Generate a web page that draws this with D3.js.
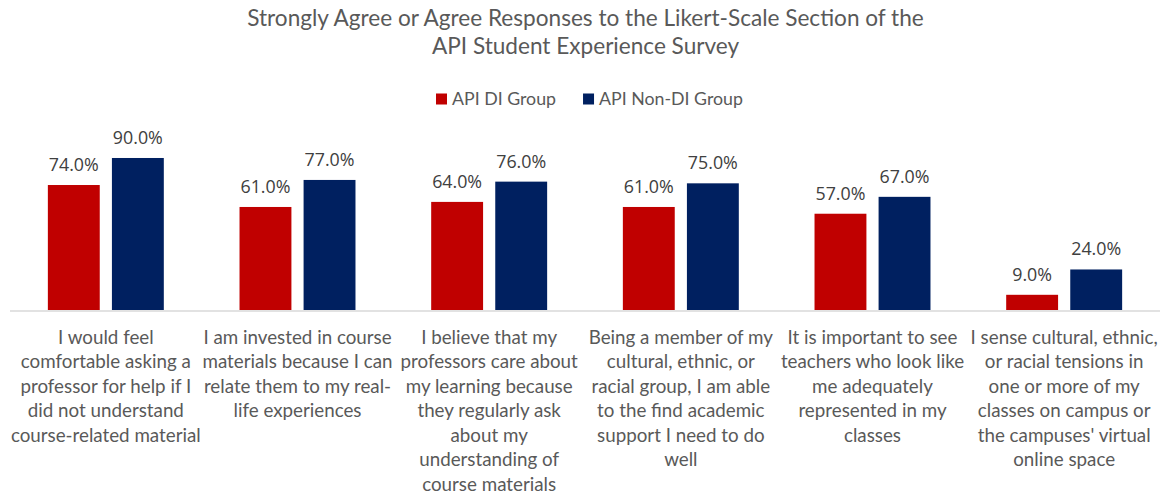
<!DOCTYPE html>
<html>
<head>
<meta charset="utf-8">
<script src="https://cdn.jsdelivr.net/npm/d3@7"></script>
<style>
  html, body { margin: 0; padding: 0; background: #fff; }
  svg { display: block; }
</style>
</head>
<body>
<svg id="chart" width="1163" height="493"></svg>
<script>
// ---- data ----
const titleLines = [
  "Strongly Agree or Agree Responses to the Likert-Scale Section of the",
  "API Student Experience Survey"
];
const categories = [
  "I would feel\ncomfortable asking a\nprofessor for help if I\ndid not understand\ncourse-related material",
  "I am invested in course\nmaterials because I can\nrelate them to my real-\nlife experiences",
  "I believe that my\nprofessors care about\nmy learning because\nthey regularly ask\nabout my\nunderstanding of\ncourse materials",
  "Being a member of my\ncultural, ethnic, or\nracial group, I am able\nto the find academic\nsupport I need to do\nwell",
  "It is important to see\nteachers who look like\nme adequately\nrepresented in my\nclasses",
  "I sense cultural, ethnic,\nor racial tensions in\none or more of my\nclasses on campus or\nthe campuses' virtual\nonline space"
];
const seriesNames = ["API DI Group", "API Non-DI Group"];
const diValues = [74, 61, 64, 61, 57, 9];
const nonDiValues = [90, 77, 76, 75, 67, 24];
const seriesColors = ["#C00000", "#002060"];

// ---- layout ----
const svg = d3.select("#chart");
const W = 1163;
const baseY = 310;
const xLeft = 10, xRight = 1160;
const catFont = "Lato, 'Open Sans', sans-serif";
const numFont = "'Open Sans', 'Noto Sans', sans-serif";

function fitSize(text, family, target) {
  const t = svg.append("text").attr("font-family", family).attr("font-size", 100).text(text);
  const len = t.node().getComputedTextLength();
  t.remove();
  return 100 * target / len;
}

const titleSize = fitSize(titleLines[0], catFont, 677);
const catSize = fitSize("course-related material", catFont, 190);
const legSize = fitSize("API Non-DI Group", catFont, 144);
const numSize = Math.min(18, fitSize("74.0%", numFont, 50));

const x0 = d3.scaleBand().domain(d3.range(categories.length)).range([xLeft, xRight])
  .paddingInner(0.395).paddingOuter(0.395 / 2);
const x1 = d3.scaleBand().domain(d3.range(seriesNames.length)).range([0, x0.bandwidth()])
  .paddingInner(0.19).paddingOuter(0);
const y = d3.scaleLinear().domain([0, 100]).range([baseY, baseY - 168.9]);

// title
svg.append("g").selectAll("text").data(titleLines).join("text")
  .attr("x", W / 2 + 4)
  .attr("y", (d, i) => 26 + i * 28)
  .attr("text-anchor", "middle")
  .attr("font-family", catFont)
  .attr("font-size", titleSize)
  .attr("fill", "#595959")
  .text(d => d);

// legend
const leg = svg.append("g");
let lx = 436;
seriesNames.forEach((name, i) => {
  leg.append("rect").attr("x", lx).attr("y", 93.5).attr("width", 11).attr("height", 11)
    .attr("fill", seriesColors[i]);
  const t = leg.append("text").attr("x", lx + 16).attr("y", 105)
    .attr("font-family", catFont).attr("font-size", legSize).attr("fill", "#595959").text(name);
  lx = lx + 16 + t.node().getComputedTextLength() + 27;
});

// bars
const data = categories.map((c, i) => ({ i, vals: [diValues[i], nonDiValues[i]] }));
const groups = svg.append("g").selectAll("g").data(data).join("g")
  .attr("transform", d => `translate(${x0(d.i)},0)`);

groups.selectAll("rect").data(d => d.vals.map((v, s) => ({ v, s }))).join("rect")
  .attr("x", d => x1(d.s))
  .attr("y", d => y(d.v))
  .attr("width", x1.bandwidth())
  .attr("height", d => baseY - y(d.v))
  .attr("fill", d => seriesColors[d.s]);

groups.selectAll("text.val").data(d => d.vals.map((v, s) => ({ v, s }))).join("text")
  .attr("class", "val")
  .attr("x", d => x1(d.s) + x1.bandwidth() / 2)
  .attr("y", d => y(d.v) - 14)
  .attr("text-anchor", "middle")
  .attr("font-family", numFont)
  .attr("font-size", numSize)
  .attr("fill", "#404040")
  .text(d => d.v.toFixed(1) + "%");

// axis line
svg.append("line").attr("x1", xLeft).attr("x2", xRight).attr("y1", baseY + 1).attr("y2", baseY + 1)
  .attr("stroke", "#D9D9D9").attr("stroke-width", 1.5);

// category labels
const catG = svg.append("g");
categories.forEach((c, i) => {
  const cx = x0(i) + x0.bandwidth() / 2;
  const t = catG.append("text")
    .attr("text-anchor", "middle")
    .attr("font-family", catFont)
    .attr("font-size", catSize)
    .attr("fill", "#595959");
  c.split("\n").forEach((line, k) => {
    t.append("tspan").attr("x", cx).attr("y", 343.5 + k * 24.5).text(line);
  });
});
</script>
</body>
</html>
